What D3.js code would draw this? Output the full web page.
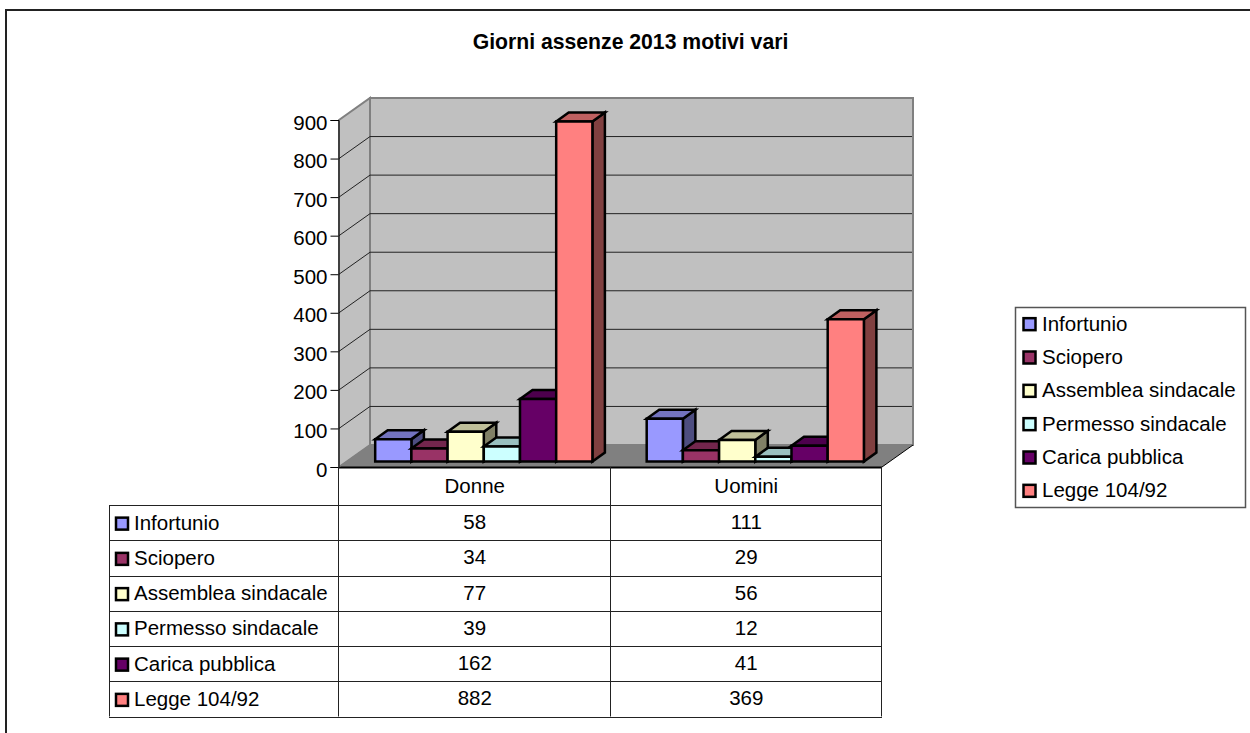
<!DOCTYPE html>
<html><head><meta charset="utf-8">
<script src="https://cdnjs.cloudflare.com/ajax/libs/d3/7.8.5/d3.min.js"></script>
<style>html,body{margin:0;padding:0;background:#fff}svg{display:block}text{font-family:"Liberation Sans",Arial,sans-serif;fill:#000}</style>
</head><body><div id="c"></div>
<script>
const titleText = "Giorni assenze 2013 motivi vari";
const categories = ["Donne","Uomini"];
const seriesNames = ["Infortunio","Sciopero","Assemblea sindacale","Permesso sindacale","Carica pubblica","Legge 104/92"];
const donne = [58,34,77,39,162,882];
const uomini = [111,29,56,12,41,369];
const colors = ["#9999FF","#993366","#FFFFCC","#CCFFFF","#660066","#FF8080"];
const ticks = [0,100,200,300,400,500,600,700,800,900];

const W=1250,H=733,FS=20.5;
const svg=d3.select("#c").append("svg").attr("width",W).attr("height",H);
const x0=339,x1=882,yBase=467,yTop=120,ddx=31,ddy=-22;
const y=d3.scaleLinear().domain([0,900]).range([yBase,yTop]);
const xCat=d3.scaleBand().domain(categories).range([x0,x1]);
const xSer=d3.scaleBand().domain(seriesNames).range([xCat.bandwidth()*0.1333,xCat.bandwidth()*0.9333]);
const barDy=-5.5,depthX=12.5,depthY=-9;
const pts=a=>a.map(p=>p.join(",")).join(" ");

// frame: top and left edges are the only ones inside the picture
svg.append("rect").attr("x",6).attr("y",10).attr("width",1300).attr("height",800).attr("fill","#fff").attr("stroke","#222").attr("stroke-width",2);
svg.append("text").attr("x",630.5).attr("y",49).attr("text-anchor","middle").attr("font-weight","bold").attr("font-size",21.2).text(titleText);

// walls & floor
svg.append("polygon").attr("points",pts([[x0,yBase],[x1,yBase],[x1+ddx,yBase+ddy],[x0+ddx,yBase+ddy]])).attr("fill","#808080");
svg.append("polygon").attr("points",pts([[x0,yBase],[x0,yTop],[x0+ddx,yTop+ddy],[x0+ddx,yBase+ddy]])).attr("fill","#C0C0C0").attr("stroke","#808080").attr("stroke-width",2);
svg.append("rect").attr("x",x0+ddx).attr("y",yTop+ddy).attr("width",x1-x0).attr("height",yBase-yTop).attr("fill","#C0C0C0").attr("stroke","#808080").attr("stroke-width",2);
svg.append("g").selectAll("polyline").data(ticks.slice(1,-1)).join("polyline")
  .attr("fill","none").attr("stroke","#222").attr("stroke-width",1)
  .attr("points",d=>pts([[x0,y(d)],[x0+ddx,y(d)+ddy],[x1+ddx-1,y(d)+ddy]]));
svg.append("line").attr("x1",x0).attr("x2",x1).attr("y1",yBase+.5).attr("y2",yBase+.5).attr("stroke","#000").attr("stroke-width",2);
svg.append("line").attr("x1",x1).attr("y1",yBase).attr("x2",x1+ddx).attr("y2",yBase+ddy).attr("stroke","#000");
svg.append("line").attr("x1",x0).attr("y1",yBase).attr("x2",x0+ddx).attr("y2",yBase+ddy).attr("stroke","#808080");

// axis
const axis=d3.axisLeft(y).tickValues(ticks).tickSize(8).tickPadding(3);
const ga=svg.append("g").attr("transform",`translate(${x0-.5},0)`).call(axis);
ga.selectAll("text").attr("font-size",FS).attr("dy","0.44em").style("font-family",'"Liberation Sans",Arial,sans-serif').attr("fill","#000");
ga.selectAll("line,path").attr("stroke","#000");

// bars
const shade=(c,k)=>{const r=d3.rgb(c);return d3.rgb(r.r*k,r.g*k,r.b*k).formatHex();};
const values={Donne:donne,Uomini:uomini};
categories.forEach(cat=>{
  const g=svg.append("g");
  seriesNames.forEach((s,i)=>{
    const v=values[cat][i];
    const l=xCat(cat)+xSer(s), r=l+xSer.bandwidth();
    const b=y(0)+barDy, t=y(v)+barDy;
    const add=(p,f)=>g.append("polygon").attr("points",pts(p)).attr("fill",f).attr("stroke","#000").attr("stroke-width",2.5).attr("stroke-linejoin","miter");
    add([[r,b],[r,t],[r+depthX,t+depthY],[r+depthX,b+depthY]],shade(colors[i],.5));
    add([[l,t],[r,t],[r+depthX,t+depthY],[l+depthX,t+depthY]],shade(colors[i],.75));
    add([[l,t],[r,t],[r,b],[l,b]],colors[i]);
  });
});

// table
const tblLeft=109;
const rowY=d3.scaleBand().domain(seriesNames).range([505,716.5]);
const T=svg.append("g").attr("stroke","#222").attr("stroke-width",1);
T.append("line").attr("x1",x0-.5).attr("x2",x0-.5).attr("y1",yBase).attr("y2",716.5);
categories.forEach(c=>{const xr=Math.round(xCat(c)+xCat.bandwidth())-.5;
  T.append("line").attr("x1",xr).attr("x2",xr).attr("y1",yBase).attr("y2",716.5);});
T.append("line").attr("x1",tblLeft+.5).attr("x2",tblLeft+.5).attr("y1",505).attr("y2",716.5);
T.append("line").attr("x1",tblLeft).attr("x2",x1).attr("y1",505.5).attr("y2",505.5);
seriesNames.forEach(s=>{const yy=Math.round(rowY(s)+rowY.bandwidth())+.5;
  T.append("line").attr("x1",tblLeft).attr("x2",x1).attr("y1",yy).attr("y2",yy);});
categories.forEach(c=>{
  svg.append("text").attr("x",xCat(c)+xCat.bandwidth()/2).attr("y",493).attr("text-anchor","middle").attr("font-size",FS).text(c);
  seriesNames.forEach((s,i)=>{
    svg.append("text").attr("x",xCat(c)+xCat.bandwidth()/2).attr("y",rowY(s)+rowY.bandwidth()/2+6.5).attr("text-anchor","middle").attr("font-size",FS).text(values[c][i]);
  });
});
const key=(g,xx,yy,i)=>g.append("rect").attr("x",xx).attr("y",yy).attr("width",12).attr("height",12).attr("fill",colors[i]).attr("stroke","#000").attr("stroke-width",2.5);
seriesNames.forEach((s,i)=>{
  const cy=rowY(s)+rowY.bandwidth()/2;
  key(svg,116,cy-5,i);
  svg.append("text").attr("x",134).attr("y",cy+7).attr("font-size",FS).text(s);
});

// legend
const lx=1015,ly=307,lw=230,lh=200;
svg.append("rect").attr("x",lx+.5).attr("y",ly+.5).attr("width",lw).attr("height",lh).attr("fill","#fff").attr("stroke","#555").attr("stroke-width",1.5);
const legY=d3.scaleBand().domain(seriesNames).range([ly+.5,ly+lh+.5]);
seriesNames.forEach((s,i)=>{
  const cy=legY(s)+legY.bandwidth()/2;
  key(svg,lx+8.5,cy-6,i);
  svg.append("text").attr("x",lx+27).attr("y",cy+6.5).attr("font-size",FS).text(s);
});
</script></body></html>
